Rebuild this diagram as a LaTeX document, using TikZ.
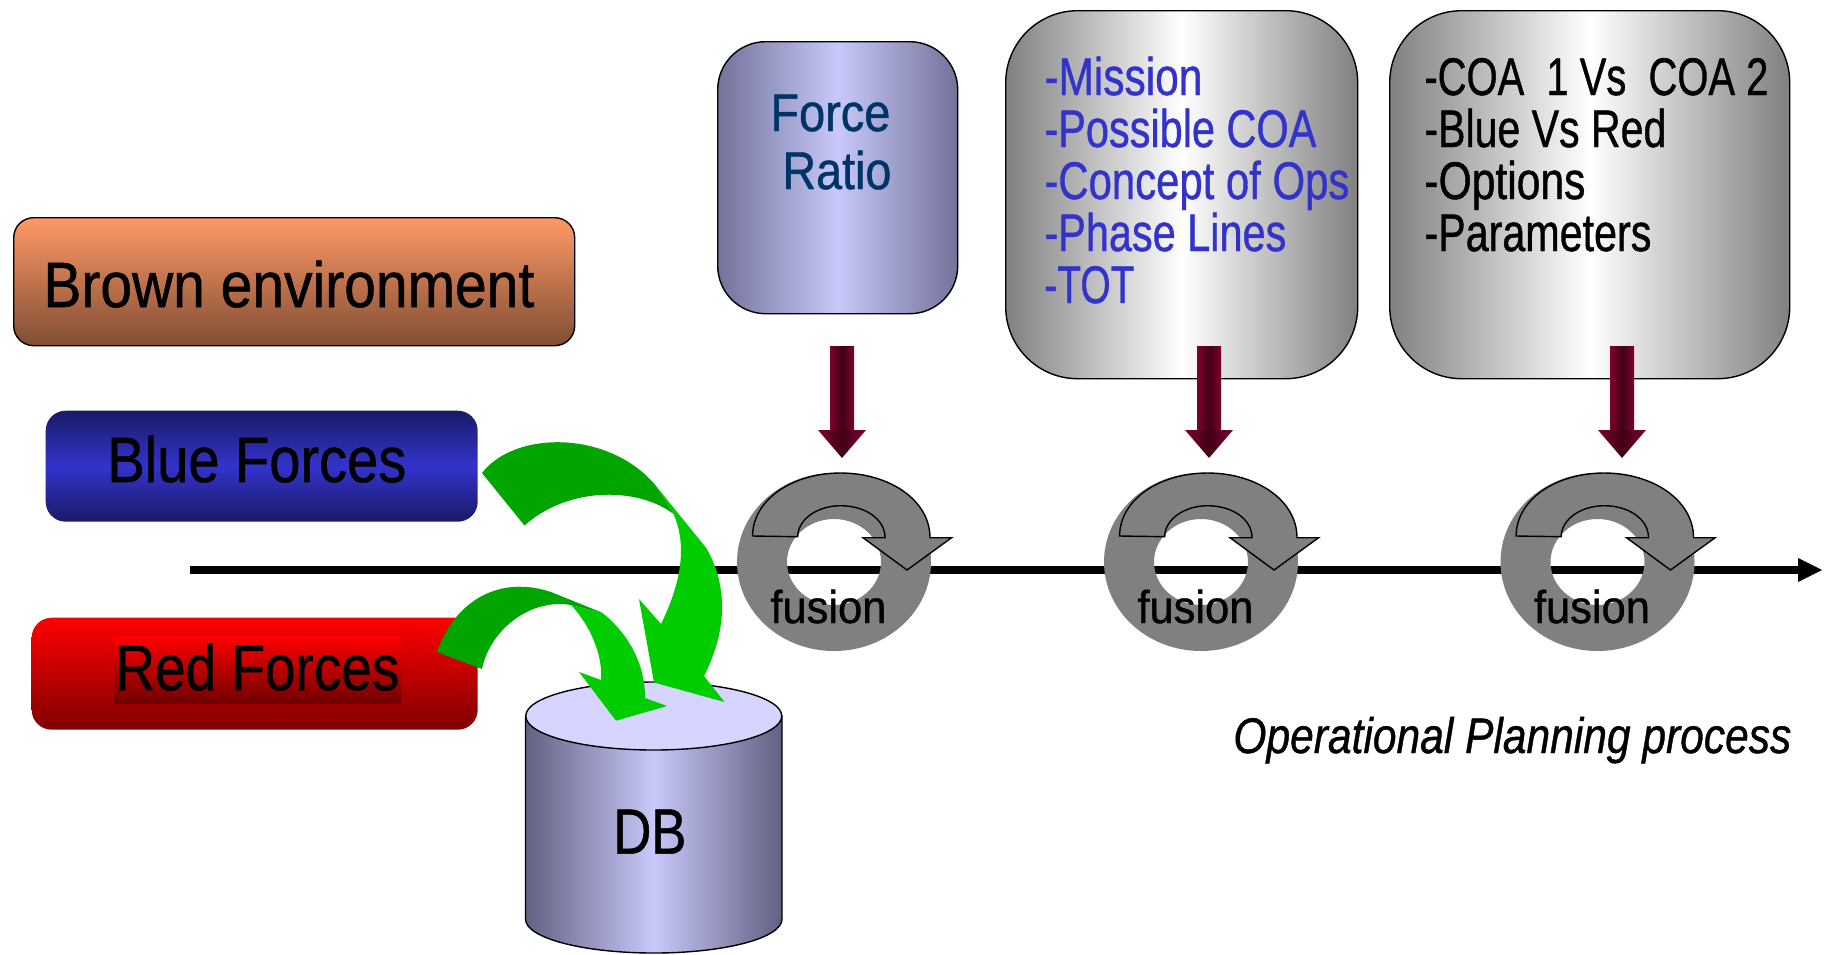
\documentclass[tikz,border=0pt]{standalone}
\usepackage{fontspec}
\usepackage{graphicx}
\setmainfont[FakeBold=0.9,ItalicFeatures={FakeBold=0.9}]{Liberation Sans}
\newcommand\fitw[2]{\resizebox{\dimexpr#1pt/2\relax}{\height}{#2}}
\definecolor{ringgray}{HTML}{808080}
\definecolor{gdark}{HTML}{00A500}
\definecolor{glight}{HTML}{00CC00}
\definecolor{wine}{HTML}{80002E}
\definecolor{winedk}{HTML}{400018}
\definecolor{periedge}{HTML}{72729A}
\definecolor{pericen}{HTML}{C8C8FA}
\tikzset{
  x=0.5pt,y=-0.5pt,
  big/.style={anchor=base west,inner sep=0pt,font=\fontsize{32}{32}\selectfont},
  med/.style={anchor=base west,inner sep=0pt,font=\fontsize{26.5}{26.5}\selectfont},
  fus/.style={anchor=base west,inner sep=0pt,font=\fontsize{23}{23}\selectfont},
  roundbox/.style={anchor=north west,inner sep=0pt,draw=black,line width=0.7pt,rounded corners=#1},
  roundbox/.default=9pt,
  greybox/.style={roundbox=36pt,left color=ringgray,right color=ringgray,middle color=white},
  ringarrow/.style={fill=ringgray,draw=black,line width=0.7pt,line join=miter}
}
\newcommand\ringat[2]{%
  \begin{scope}[shift={(#1,0)}]
    \fill[ringgray,even odd rule] (0,562) ellipse [x radius=48.5pt,y radius=44.5pt]
       (0,562) ellipse [x radius=23.5pt,y radius=21.5pt];
    \draw[ringarrow] (-81.4,536) .. controls (-81.4,500) and (-42,473) .. (6.6,473)
       .. controls (55,473) and (96,500) .. (96,537.7) -- (117.6,537.7) -- (73,570) -- (29,537.7) -- (51,537.7)
       .. controls (51,519) and (31,505.7) .. (6.6,505.7)
       .. controls (-16,505.7) and (-36.3,519) .. (-36.3,536.7) -- cycle;
    \node[fus] (#2) at (-64,623) {\fitw{116}{fusion}};
  \end{scope}}
\newcommand\downarrowat[1]{%
  \begin{scope}[shift={(#1,0)}]
    \shade[left color=wine,right color=wine,middle color=winedk] (-12,346) rectangle (12,431);
    \shade[left color=wine,right color=wine,middle color=winedk] (-24,430) -- (24,430) -- (0,458) -- cycle;
  \end{scope}}
\begin{document}
\begin{tikzpicture}
\useasboundingbox (0,0) rectangle (1824,954);
% axis
\coordinate (axisstart) at (190,570);
\coordinate (axisend) at (1798,570);
\draw[black,line width=4pt] (axisstart) -- (axisend);
\fill[black] (1798,558) -- (1822,570) -- (1798,582) -- cycle;
% boxes
\node[roundbox=10pt,minimum width=280.5pt,minimum height=64pt,top color={rgb,255:red,255;green,153;blue,102},bottom color={rgb,255:red,128;green,77;blue,51}] (brownbox) at (13,217) {};
\node[big] (browntext) at (43,307) {\fitw{491}{Brown environment}};
\node[roundbox=10pt,draw=none,minimum width=216pt,minimum height=55.5pt,top color={rgb,255:red,26;green,26;blue,102},bottom color={rgb,255:red,26;green,26;blue,102},middle color={rgb,255:red,51;green,51;blue,204}] (bluebox) at (45,410) {};
\node[big] (bluetext) at (107,482) {\fitw{299}{Blue Forces}};
\node[roundbox=10pt,draw=none,minimum width=223pt,minimum height=56pt,top color=red,bottom color={rgb,255:red,128;green,0;blue,0}] (redbox) at (31,617) {};
\shade[top color=red,bottom color={rgb,255:red,112;green,0;blue,0}] (114,636) rectangle (401,703);
\node[big] (redtext) at (115,690) {\fitw{284}{Red Forces}};
\node[roundbox=24pt,minimum width=120pt,minimum height=136pt,left color=periedge,right color=periedge,middle color=pericen] (forcebox) at (717,41) {};
\node[med,text={rgb,255:red,0;green,51;blue,102}] (force) at (770,131) {\fitw{120}{Force}};
\node[med,text={rgb,255:red,0;green,51;blue,102}] (ratio) at (782,189) {\fitw{109}{Ratio}};
\node[greybox,minimum width=176pt,minimum height=184pt] (missionbox) at (1005,10) {};
\begin{scope}[every node/.append style={med,text={rgb,255:red,51;green,51;blue,204}}]
\node (m1) at (1044,95) {\fitw{158}{-Mission}};
\node (m2) at (1044,147) {\fitw{272}{-Possible COA}};
\node (m3) at (1044,199) {\fitw{305}{-Concept of Ops}};
\node (m4) at (1044,251) {\fitw{242}{-Phase Lines}};
\node (m5) at (1044,303) {\fitw{90}{-TOT}};
\end{scope}
\node[greybox,minimum width=200pt,minimum height=184pt] (coabox) at (1389,10) {};
\begin{scope}[every node/.append style={med}]
\node (c1) at (1424,95) {\fitw{344}{-COA~~1 Vs~~COA 2}};
\node (c2) at (1424,147) {\fitw{242}{-Blue Vs Red}};
\node (c3) at (1424,199) {\fitw{161}{-Options}};
\node (c4) at (1424,251) {\fitw{227}{-Parameters}};
\end{scope}
% rings
\ringat{834}{f1}
\ringat{1201}{f2}
\ringat{1597.5}{f3}
\downarrowat{842}
\downarrowat{1209}
\downarrowat{1622}
% cylinder
\shade[left color=periedge!85!black,right color=periedge!85!black,middle color=pericen,draw=black,line width=0.7pt]
  (525.5,716) -- (525.5,919) .. controls (525.5,938) and (583,953) .. (654,953)
  .. controls (725,953) and (782,938) .. (782,919) -- (782,716) -- cycle;
\fill[fill={rgb,255:red,213;green,213;blue,255},draw=black,line width=0.7pt] (653.75,716) ellipse [x radius=64pt,y radius=17pt];
\node[big] (db) at (613,853.6) {\fitw{73}{DB}};
% green arrows
\fill[glight] (656,486) -- (706.6,548.5) .. controls (730,590) and (725,635) .. (704,676)
  -- (724.5,702) -- (654,682.5) -- (639,599) -- (661,624)
  .. controls (685,575) and (685,540) .. (673.5,514) -- cycle;
\fill[gdark] (482,473) .. controls (515,430) and (610,430) .. (656,486)
  -- (673.5,514) .. controls (640,488) and (570,485) .. (524.5,525.5) -- cycle;
\fill[glight] (602,612.6) .. controls (630,635) and (645,665) .. (645,698)
  -- (667,706) -- (616,720.7) -- (579,672) -- (601,680)
  .. controls (603,655) and (590,625) .. (571,605) -- cycle;
\fill[gdark] (437,652) .. controls (455,600) and (500,575) .. (551,592)
  -- (602,612.6) -- (571,605) .. controls (530,598) and (490,630) .. (482,669) -- cycle;
% caption
\node[anchor=base west,inner sep=0pt,font=\fontsize{25}{25}\selectfont\itshape] (caption) at (1233,753) {\fitw{558}{Operational Planning process}};
\end{tikzpicture}
\end{document}
